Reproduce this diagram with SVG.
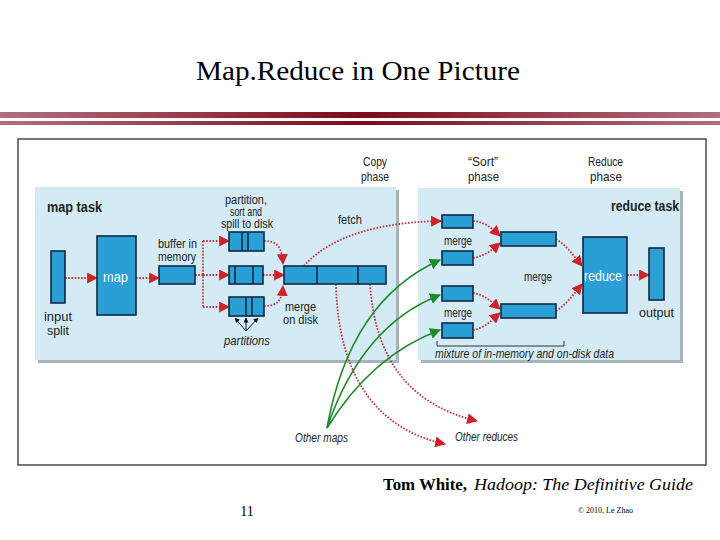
<svg xmlns="http://www.w3.org/2000/svg" width="720" height="540" viewBox="0 0 720 540">
<defs>
<linearGradient id="band" x1="0" y1="0" x2="1" y2="0">
<stop offset="0" stop-color="#b07080"/>
<stop offset="0.5" stop-color="#7d0a18"/>
<stop offset="1" stop-color="#b07080"/>
</linearGradient>
<marker id="ar" viewBox="0 0 10 10" refX="9" refY="5" markerWidth="11" markerHeight="11" markerUnits="userSpaceOnUse" orient="auto">
<path d="M0,0 L10,5 L0,10 z" fill="#d0222a"/>
</marker>
<marker id="ag" viewBox="0 0 10 10" refX="9" refY="5" markerWidth="11" markerHeight="11" markerUnits="userSpaceOnUse" orient="auto">
<path d="M0,0 L10,5 L0,10 z" fill="#1f8a2a"/>
</marker>
<marker id="ak" viewBox="0 0 10 10" refX="9" refY="5" markerWidth="5" markerHeight="5" markerUnits="userSpaceOnUse" orient="auto">
<path d="M0,0 L10,5 L0,10 z" fill="#111"/>
</marker>
<style>
.panel{fill:#d4ebf6}
.shadow{fill:#a9b3ba}
.box{fill:#2a9fd6;stroke:#0f2a44;stroke-width:1.6}
.div{stroke:#0f2a44;stroke-width:1.6}
.lbl{font-family:"Liberation Sans","DejaVu Sans",sans-serif;font-size:13px;fill:#222}
.it{font-style:italic}
.bold{font-weight:bold;font-size:14px}
.wh{fill:#ffffff;font-size:15px}
.red{fill:none;stroke:#c23038;stroke-width:1.8;stroke-dasharray:1.6 1.6;marker-end:url(#ar)}
.redn{fill:none;stroke:#c23038;stroke-width:1.8;stroke-dasharray:1.6 1.6}
.grn{fill:none;stroke:#1f8a2a;stroke-width:1.6;marker-end:url(#ag)}
.blk{fill:none;stroke:#111;stroke-width:1;marker-end:url(#ak)}
.serif{font-family:"Liberation Serif","Times New Roman",serif;fill:#000}
</style>
</defs>
<rect width="720" height="540" fill="#ffffff"/>
<text class="serif" x="196" y="80" font-size="28" textLength="324" lengthAdjust="spacingAndGlyphs">Map.Reduce in One Picture</text>
<rect x="0" y="112" width="720" height="6" fill="url(#band)"/>
<rect x="0" y="121" width="720" height="4" fill="url(#band)"/>

<rect x="18" y="139" width="688" height="326" fill="#ffffff" stroke="#4a4a4a" stroke-width="1.5"/>

<g id="map-panel">
<rect class="shadow" x="38" y="190" width="361" height="173"/>
<rect class="panel" x="35" y="187" width="361" height="173"/>
<text class="lbl bold" x="47" y="212" textLength="55" lengthAdjust="spacingAndGlyphs">map task</text>
</g>
<g id="reduce-panel">
<rect class="shadow" x="421" y="191" width="262" height="172"/>
<rect class="panel" x="418" y="188" width="262" height="172"/>
<text class="lbl bold" x="611" y="211" textLength="68" lengthAdjust="spacingAndGlyphs">reduce task</text>
</g>

<g id="phase-labels">
<text class="lbl" x="363" y="166" textLength="24" lengthAdjust="spacingAndGlyphs">Copy</text>
<text class="lbl" x="361" y="181" textLength="28" lengthAdjust="spacingAndGlyphs">phase</text>
<text class="lbl" x="468" y="166" textLength="30" lengthAdjust="spacingAndGlyphs">“Sort”</text>
<text class="lbl" x="468" y="181" textLength="31" lengthAdjust="spacingAndGlyphs">phase</text>
<text class="lbl" x="588" y="166" textLength="35" lengthAdjust="spacingAndGlyphs">Reduce</text>
<text class="lbl" x="590" y="181" textLength="32" lengthAdjust="spacingAndGlyphs">phase</text>
</g>

<g id="connectors">
<path class="red" d="M65,278 L97,278"/>
<path class="red" d="M136,278 L159,278"/>
<path class="redn" d="M195,275 L203,275 M203,241 L203,307"/>
<path class="red" d="M203,241 L229,241"/>
<path class="red" d="M203,275 L229,275"/>
<path class="red" d="M203,307 L229,307"/>
<path class="red" d="M264,241 C278,241 282,248 283,264"/>
<path class="red" d="M263,275 L284,275"/>
<path class="red" d="M264,306 C278,306 282,300 283,286"/>
<path class="red" d="M304,266 C330,236 380,222 441,221"/>
<path class="red" d="M336,284 C338,380 380,430 445,444"/>
<path class="red" d="M370,284 C375,360 410,405 477,421"/>
<path class="red" d="M473,221 C485,222 492,228 500,236"/>
<path class="red" d="M473,258 C485,256 492,250 500,243"/>
<path class="red" d="M473,293 C485,295 492,302 500,309"/>
<path class="red" d="M473,330 C485,328 492,320 500,313"/>
<path class="red" d="M556,239 C566,245 574,256 582,266"/>
<path class="red" d="M556,311 C566,305 574,294 582,284"/>
<path class="red" d="M627,275 L649,275"/>
<path class="grn" d="M327,428 Q350,300 440,260"/>
<path class="grn" d="M327,428 Q362,325 440,295"/>
<path class="grn" d="M327,428 Q372,355 440,330"/>
<path class="blk" d="M246,331 L235,318"/>
<path class="blk" d="M246,331 L246,318"/>
<path class="blk" d="M246,331 L258,318"/>
<path d="M437,341 L437,346 L564,346 L564,341" fill="none" stroke="#333" stroke-width="1"/>
</g>

<g id="input-split">
<rect class="box" x="51" y="251" width="14" height="52"/>
<text class="lbl" x="44" y="321" font-size="15" textLength="28" lengthAdjust="spacingAndGlyphs">input</text>
<text class="lbl" x="47" y="335" font-size="15" textLength="22" lengthAdjust="spacingAndGlyphs">split</text>
</g>
<g id="map">
<rect class="box" x="97" y="236" width="39" height="79"/>
<text class="lbl wh" x="103" y="282" textLength="25" lengthAdjust="spacingAndGlyphs">map</text>
</g>
<g id="buffer">
<rect class="box" x="159" y="266" width="36" height="18"/>
<text class="lbl" x="158" y="248" font-size="11" textLength="39" lengthAdjust="spacingAndGlyphs">buffer in</text>
<text class="lbl" x="158" y="261" font-size="11" textLength="38" lengthAdjust="spacingAndGlyphs">memory</text>
</g>
<g id="spill">
<text class="lbl" x="225" y="204" font-size="10.5" textLength="42" lengthAdjust="spacingAndGlyphs">partition,</text>
<text class="lbl" x="230" y="216" font-size="10.5" textLength="32" lengthAdjust="spacingAndGlyphs">sort and</text>
<text class="lbl" x="221" y="228" font-size="10.5" textLength="52" lengthAdjust="spacingAndGlyphs">spill to disk</text>
<rect class="box" x="229" y="232" width="35" height="19"/>
<line class="div" x1="242" y1="232" x2="242" y2="251"/>
<line class="div" x1="248" y1="232" x2="248" y2="251"/>
<rect class="box" x="229" y="266" width="34" height="18"/>
<line class="div" x1="235" y1="266" x2="235" y2="284"/>
<line class="div" x1="253" y1="266" x2="253" y2="284"/>
<rect class="box" x="229" y="297" width="35" height="19"/>
<line class="div" x1="246" y1="297" x2="246" y2="316"/>
<line class="div" x1="252" y1="297" x2="252" y2="316"/>
<text class="lbl it" x="224" y="345" textLength="46" lengthAdjust="spacingAndGlyphs">partitions</text>
</g>
<g id="merge-on-disk">
<rect class="box" x="284" y="266" width="102" height="18"/>
<line class="div" x1="317" y1="266" x2="317" y2="284"/>
<line class="div" x1="358" y1="266" x2="358" y2="284"/>
<text class="lbl" x="285" y="311" font-size="11.5" textLength="31" lengthAdjust="spacingAndGlyphs">merge</text>
<text class="lbl" x="283" y="324" font-size="11.5" textLength="35" lengthAdjust="spacingAndGlyphs">on disk</text>
<text class="lbl" x="338" y="224" textLength="24" lengthAdjust="spacingAndGlyphs">fetch</text>
</g>
<g id="reduce-merge">
<rect class="box" x="442" y="215" width="31" height="13"/>
<rect class="box" x="442" y="251" width="31" height="14"/>
<rect class="box" x="442" y="286" width="31" height="15"/>
<rect class="box" x="442" y="323" width="31" height="15"/>
<text class="lbl" x="444" y="245" font-size="12" textLength="28" lengthAdjust="spacingAndGlyphs">merge</text>
<text class="lbl" x="444" y="317" font-size="12" textLength="28" lengthAdjust="spacingAndGlyphs">merge</text>
<rect class="box" x="501" y="232" width="55" height="14"/>
<rect class="box" x="501" y="304" width="55" height="14"/>
<text class="lbl" x="524" y="281" font-size="12" textLength="28" lengthAdjust="spacingAndGlyphs">merge</text>
<text class="lbl it" x="435" y="358" font-size="12" textLength="179" lengthAdjust="spacingAndGlyphs">mixture of in-memory and on-disk data</text>
</g>
<g id="reduce">
<rect class="box" x="583" y="237" width="44" height="76"/>
<text class="lbl wh" x="584" y="281" textLength="38" lengthAdjust="spacingAndGlyphs">reduce</text>
</g>
<g id="output">
<rect class="box" x="649" y="248" width="15" height="52"/>
<text class="lbl" x="639" y="317" font-size="14" textLength="35" lengthAdjust="spacingAndGlyphs">output</text>
</g>
<g id="others">
<text class="lbl it" x="295" y="442" textLength="53" lengthAdjust="spacingAndGlyphs">Other maps</text>
<text class="lbl it" x="455" y="441" textLength="63" lengthAdjust="spacingAndGlyphs">Other reduces</text>
</g>

<text class="serif" x="383" y="490" font-size="17" font-weight="bold" textLength="84" lengthAdjust="spacingAndGlyphs">Tom White,</text>
<text class="serif" x="474" y="490" font-size="17" font-style="italic" textLength="219" lengthAdjust="spacingAndGlyphs">Hadoop: The Definitive Guide</text>
<text class="serif" x="247" y="516" font-size="14" text-anchor="middle">11</text>
<text class="serif" x="578" y="513" font-size="8" fill="#888" textLength="55" lengthAdjust="spacingAndGlyphs">© 2010, Le Zhao</text>
</svg>
